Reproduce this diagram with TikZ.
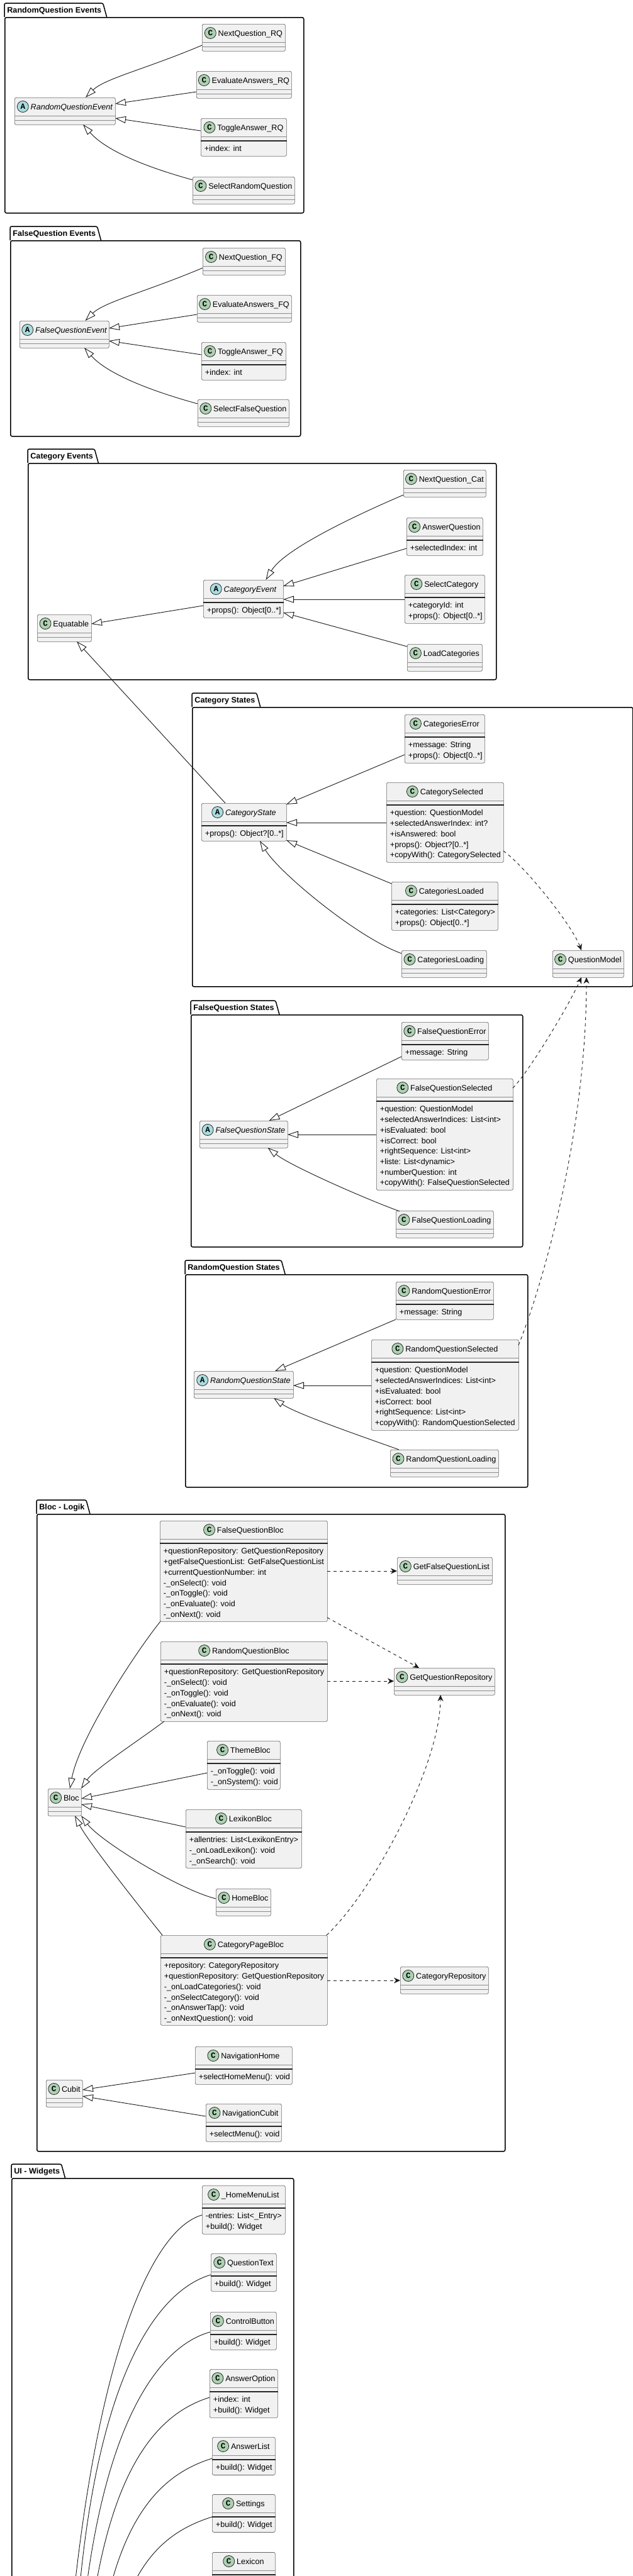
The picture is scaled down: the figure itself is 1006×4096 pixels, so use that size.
\documentclass[tikz,border=0pt]{standalone}
\usepackage{fontspec}
\setmainfont{Liberation Sans}
\newfontfamily\circfont{Liberation Mono}
\usetikzlibrary{arrows.meta,calc}
\definecolor{classfill}{HTML}{F1F1F1}
\definecolor{spotC}{HTML}{ADD1B2}
\definecolor{spotA}{HTML}{A9DCDF}
\tikzset{
  umlfont/.style={font=\fontsize{6.3pt}{8.35pt}\selectfont},
  classbox/.style={draw=black!60, fill=classfill, line width=0.35pt, rounded corners=1.25pt, inner sep=0pt, anchor=north west},
  titleC/.style={font=\fontsize{6.3pt}{8.35pt}\selectfont, inner sep=0pt},
  titleA/.style={font=\fontsize{6.3pt}{8.35pt}\selectfont\itshape, inner sep=0pt},
  circC/.style={circle, draw=black!85, fill=spotC, line width=0.4pt, minimum size=9pt, inner sep=0pt, font=\fontsize{6.3pt}{6.3pt}\selectfont\circfont\bfseries},
  circA/.style={circle, draw=black!85, fill=spotA, line width=0.4pt, minimum size=9pt, inner sep=0pt, font=\fontsize{6.3pt}{6.3pt}\selectfont\circfont\bfseries},
  sepline/.style={draw=black!45, line width=0.35pt},
  darkline/.style={draw=black!85, line width=0.6pt},
  member/.style={umlfont, inner sep=0pt},
  pkgbox/.style={draw=black, line width=0.75pt, rounded corners=1.25pt, inner sep=0pt, anchor=north west},
  pkgline/.style={draw=black, line width=0.75pt},
  pkgtitle/.style={font=\fontsize{6.3pt}{8.35pt}\selectfont\bfseries, inner sep=0pt},
  inh/.style={draw=black!90, line width=0.45pt, -{Triangle[open, length=8.5pt, width=5.5pt]}},
  dep/.style={draw=black!90, line width=0.45pt, dash pattern=on 2.5pt off 2.5pt, -{Stealth[length=5pt, width=4.5pt]}},
  wline/.style={draw=black!90, line width=0.45pt},
}
\newcommand{\umlpackage}[6]{%
  \node[pkgbox, minimum width={(#4-#2)*0.5pt}, minimum height={(#5-#3-22)*0.5pt}] (#1) at (#2,#3+22) {};
  \node[pkgtitle, anchor=base west] (#1-t) at ($(#1.north west)+(4,-6.5)$) {#6};
  \draw[pkgline, rounded corners=1.25pt] (#1.north west) -- ($(#1.north west)+(0,-22)$) -- ($(#1-t.east |- #1.north)+(2,-22)$) -- ($(#1-t.east |- #1.north)+(8,0)$);
}
\newcommand{\umlclass}[7]{%
  \node[classbox, minimum width={#5*0.5pt}, minimum height={#6*0.5pt}] (#1) at (#3,#4) {};
  \node[title#2, anchor=base] (#1-t) at ($(#1.north)+(10.5,19)$) {#7};
  \node[circ#2] at ($(#1-t.base west)+(-12,-4.5)$) {#2};
  \draw[sepline] ($(#1.north west)+(0,29)$) -- ($(#1.north east)+(0,29)$);
  \draw[sepline] ($(#1.north west)+(0,36)$) -- ($(#1.north east)+(0,36)$);
}
\newcommand{\umlclassm}[8]{%
  \node[classbox, minimum width={#5*0.5pt}, minimum height={#6*0.5pt}] (#1) at (#3,#4) {};
  \node[title#2, anchor=base] (#1-t) at ($(#1.north)+(10.5,19)$) {#7};
  \node[circ#2] at ($(#1-t.base west)+(-12,-4.5)$) {#2};
  \draw[sepline] ($(#1.north west)+(0,29)$) -- ($(#1.north east)+(0,29)$);
  \draw[darkline] ($(#1.north west)+(0,36)$) -- ($(#1.north east)+(0,36)$);
  \foreach \m [count=\i] in {#8} {\node[member, anchor=base west] at ($(#1.north west)+(5.5,{36.2+16.7*\i})$) {\m};}
}
\begin{document}
\begin{tikzpicture}[x=0.5pt,y=-0.5pt]
  \useasboundingbox (0,0) rectangle (1006,4096);
  \fill[white] (0,0) rectangle (1006,4096);
  \clip (0,0) rectangle (1006,4096);

  \umlpackage{prq}{7}{5}{482}{338}{RandomQuestion Events}
  \umlpackage{pfq}{16}{360}{477}{693}{FalseQuestion Events}
  \umlpackage{pce}{44}{714}{788}{1080}{Category Events}
  \umlpackage{pcs}{305}{1102}{1005}{1568}{Category States}
  \umlpackage{pfs}{303}{1591}{830}{1982}{FalseQuestion States}
  \umlpackage{prs}{294}{2004}{838}{2364}{RandomQuestion States}
  \umlpackage{pbl}{58}{2385}{802}{3420}{Bloc - Logik}
  \umlpackage{pui}{18}{3441}{466}{4400}{UI - Widgets}

  \umlclass{rqe}{A}{23}{155}{160}{43}{RandomQuestionEvent}
  \umlclass{nqrq}{C}{321}{38}{132}{43}{NextQuestion\_RQ}
  \umlclass{evrq}{C}{312}{113}{151}{43}{EvaluateAnswers\_RQ}
  \umlclassm{tgrq}{C}{319}{188}{136}{60}{ToggleAnswer\_RQ}{{+index: int}}
  \umlclass{selrq}{C}{306}{281}{162}{43}{SelectRandomQuestion}

  \umlclass{fqe}{A}{31}{510}{142}{43}{FalseQuestionEvent}
  \umlclass{nqfq}{C}{322}{394}{131}{43}{NextQuestion\_FQ}
  \umlclass{evfq}{C}{313}{469}{150}{43}{EvaluateAnswers\_FQ}
  \umlclassm{tgfq}{C}{320}{544}{134}{60}{ToggleAnswer\_FQ}{{+index: int}}
  \umlclass{selfq}{C}{314}{635}{145}{43}{SelectFalseQuestion}

  \umlclassm{cate}{A}{323}{922}{127}{60}{CategoryEvent}{{+props(): Object[0..*]}}
  \umlclass{nqcat}{C}{641}{747}{131}{43}{NextQuestion\_Cat}
  \umlclassm{ansq}{C}{646}{823}{121}{60}{AnswerQuestion}{{+selectedIndex: int}}
  \umlclassm{selcat}{C}{643}{914}{127}{77}{SelectCategory}{{+categoryId: int},{+props(): Object[0..*]}}
  \umlclass{loadcat}{C}{647}{1024}{119}{43}{LoadCategories}
  \umlclass{equat}{C}{59}{977}{86}{43}{Equatable}

  \umlclassm{cats}{A}{320}{1277}{135}{60}{CategoryState}{{+props(): Object?[0..*]}}
  \umlclassm{caterr}{C}{643}{1136}{127}{77}{CategoriesError}{{+message: String},{+props(): Object[0..*]}}
  \umlclassm{catsel}{C}{614}{1244}{186}{127}{CategorySelected}{{+question: QuestionModel},{+selectedAnswerIndex: int?},{+isAnswered: bool},{+props(): Object?[0..*]},{+copyWith(): CategorySelected}}
  \umlclassm{catload}{C}{622}{1402}{169}{77}{CategoriesLoaded}{{+categories: List<Category>},{+props(): Object[0..*]}}
  \umlclass{catwait}{C}{638}{1511}{135}{43}{CategoriesLoading}
  \umlclass{qmodel}{C}{878}{1511}{113}{43}{QuestionModel}

  \umlclass{fqs}{A}{317}{1782}{140}{43}{FalseQuestionState}
  \umlclassm{fqerr}{C}{638}{1625}{138}{60}{FalseQuestionError}{{+message: String}}
  \umlclassm{fqsel}{C}{598}{1715}{217}{177}{FalseQuestionSelected}{{+question: QuestionModel},{+selectedAnswerIndices: List<int>},{+isEvaluated: bool},{+isCorrect: bool},{+rightSequence: List<int>},{+liste: List<dynamic>},{+numberQuestion: int},{+copyWith(): FalseQuestionSelected}}
  \umlclass{fqwait}{C}{629}{1925}{155}{43}{FalseQuestionLoading}

  \umlclass{rqs}{A}{308}{2180}{158}{43}{RandomQuestionState}
  \umlclassm{rqerr}{C}{629}{2038}{155}{60}{RandomQuestionError}{{+message: String}}
  \umlclassm{rqsel}{C}{590}{2130}{234}{144}{RandomQuestionSelected}{{+question: QuestionModel},{+selectedAnswerIndices: List<int>},{+isEvaluated: bool},{+isCorrect: bool},{+rightSequence: List<int>},{+copyWith(): RandomQuestionSelected}}
  \umlclass{rqwait}{C}{620}{2305}{172}{43}{RandomQuestionLoading}

  \umlclassm{fqbloc}{C}{254}{2418}{266}{160}{FalseQuestionBloc}{{+questionRepository: GetQuestionRepository},{+getFalseQuestionList: GetFalseQuestionList},{+currentQuestionNumber: int},{-\_onSelect(): void},{-\_onToggle(): void},{-\_onEvaluate(): void},{-\_onNext(): void}}
  \umlclass{gfql}{C}{631}{2476}{151}{43}{GetFalseQuestionList}
  \umlclass{gqrepo}{C}{626}{2652}{160}{43}{GetQuestionRepository}
  \umlclassm{rqbloc}{C}{255}{2610}{265}{127}{RandomQuestionBloc}{{+questionRepository: GetQuestionRepository},{-\_onSelect(): void},{-\_onToggle(): void},{-\_onEvaluate(): void},{-\_onNext(): void}}
  \umlclassm{themebloc}{C}{329}{2768}{116}{77}{ThemeBloc}{{-\_onToggle(): void},{-\_onSystem(): void}}
  \umlclass{bloc}{C}{76}{2844}{53}{43}{Bloc}
  \umlclassm{lexbloc}{C}{295}{2877}{184}{93}{LexikonBloc}{{+allentries: List<LexikonEntry>},{-\_onLoadLexikon(): void},{-\_onSearch(): void}}
  \umlclass{homebloc}{C}{343}{3003}{87}{43}{HomeBloc}
  \umlclassm{cpbloc}{C}{255}{3077}{265}{143}{CategoryPageBloc}{{+repository: CategoryRepository},{+questionRepository: GetQuestionRepository},{-\_onLoadCategories(): void},{-\_onSelectCategory(): void},{-\_onAnswerTap(): void},{-\_onNextQuestion(): void}}
  \umlclass{catrepo}{C}{636}{3127}{140}{43}{CategoryRepository}
  \umlclassm{navhome}{C}{310}{3254}{154}{60}{NavigationHome}{{+selectHomeMenu(): void}}
  \umlclassm{navcubit}{C}{327}{3345}{120}{60}{NavigationCubit}{{+selectMenu(): void}}
  \umlclass{cubit}{C}{73}{3307}{58}{43}{Cubit}

  \umlclassm{hml}{C}{321}{3475}{132}{77}{\_HomeMenuList}{{-entries: List<\_Entry>},{+build(): Widget}}
  \umlclassm{qtext}{C}{335}{3583}{104}{60}{QuestionText}{{+build(): Widget}}
  \umlclassm{ctrlbtn}{C}{334}{3676}{105}{60}{ControlButton}{{+build(): Widget}}
  \umlclassm{ansopt}{C}{333}{3767}{108}{77}{AnswerOption}{{+index: int},{+build(): Widget}}
  \umlclassm{anslist}{C}{337}{3875}{100}{60}{AnswerList}{{+build(): Widget}}
  \umlclassm{settings}{C}{337}{3966}{100}{60}{Settings}{{+build(): Widget}}
  \umlclassm{lexicon}{C}{337}{4058}{100}{60}{Lexicon}{{}}

  \draw[inh] ($(nqrq.north west)+(0,34)$) .. controls +(-90,38) and +(30,-30) .. ($(rqe.north west)+(113,0)$);
  \draw[inh] ($(evrq.north west)+(0,33)$) -- ($(rqe.north west)+(160,10)$);
  \draw[inh] ($(tgrq.north west)+(0,20)$) -- ($(rqe.north west)+(160,33)$);
  \draw[inh] ($(selrq.north west)+(0,5)$) .. controls +(-80,-22) and +(35,40) .. ($(rqe.north west)+(109,43)$);

  \draw[inh] ($(nqfq.north west)+(0,32)$) .. controls +(-90,38) and +(30,-30) .. ($(fqe.north west)+(104.5,0)$);
  \draw[inh] ($(evfq.north west)+(0,31)$) -- ($(fqe.north west)+(142,12)$);
  \draw[inh] ($(tgfq.north west)+(0,20)$) -- ($(fqe.north west)+(142,32)$);
  \draw[inh] ($(selfq.north west)+(0,7)$) .. controls +(-80,-22) and +(35,40) .. ($(fqe.north west)+(103,43)$);

  \draw[inh] ($(nqcat.north west)+(0,40)$) .. controls +(-70,30) and +(30,-50) .. ($(cate.north west)+(99.5,0)$);
  \draw[inh] ($(ansq.north west)+(0,49)$) -- ($(cate.north west)+(127,10)$);
  \draw[inh] ($(selcat.north west)+(0,39)$) -- ($(cate.north west)+(127,31)$);
  \draw[inh] ($(loadcat.north west)+(0,4)$) -- ($(cate.north west)+(127,52)$);
  \draw[inh] ($(cate.north west)+(0,41)$) -- ($(equat.north west)+(86,15)$);
  \draw[inh] ($(cats.north west)+(38,0)$) -- ($(equat.north west)+(63,43)$);

  \draw[inh] ($(caterr.north west)+(0,64)$) -- ($(cats.north west)+(135,2)$);
  \draw[inh] ($(catsel.north west)+(0,64)$) -- ($(cats.north west)+(135,31)$);
  \draw[inh] ($(catload.north west)+(0,3)$) -- ($(cats.north west)+(135,59)$);
  \draw[inh] ($(catwait.north west)+(0,5)$) .. controls +(-70,-25) and +(30,50) .. ($(cats.north west)+(93,60)$);
  \draw[dep] ($(catsel.north west)+(186,109)$) .. controls +(35,25) and +(-15,-40) .. ($(qmodel.north west)+(46,0)$);
  \draw[dep] ($(fqsel.north west)+(217,15)$) .. controls +(25,-25) and +(-20,45) .. ($(qmodel.north west)+(46,43)$);
  \draw[dep] ($(rqsel.north west)+(234,9)$) .. controls +(40,-100) and +(0,245) .. ($(qmodel.north west)+(54,43)$);

  \draw[inh] ($(fqerr.north west)+(0,55)$) -- ($(fqs.north west)+(110.5,0)$);
  \draw[inh] ($(fqsel.north west)+(0,89)$) -- ($(fqs.north west)+(140,22)$);
  \draw[inh] ($(fqwait.north west)+(6,1)$) .. controls +(-60,-22) and +(35,28) .. ($(fqs.north west)+(108.5,43)$);

  \draw[inh] ($(rqerr.north west)+(0,60)$) -- ($(rqs.north west)+(129,0)$);
  \draw[inh] ($(rqsel.north west)+(0,73)$) -- ($(rqs.north west)+(158,23)$);
  \draw[inh] ($(rqwait.north west)+(14,0)$) .. controls +(-50,-18) and +(35,25) .. ($(rqs.north west)+(127,43)$);

  \draw[dep] ($(fqbloc.north west)+(266,80)$) -- ($(gfql.north west)+(0,22)$);
  \draw[dep] ($(fqbloc.north west)+(266,154)$) -- ($(gqrepo.north west)+(40,0)$);
  \draw[dep] ($(rqbloc.north west)+(265,63)$) -- ($(gqrepo.north west)+(0,21)$);
  \draw[dep] ($(cpbloc.north west)+(264,0)$) .. controls +(75,-70) and +(0,110) .. ($(gqrepo.north west)+(74,43)$);
  \draw[dep] ($(cpbloc.north west)+(265,72)$) -- ($(catrepo.north west)+(0,22)$);
  \draw[inh] ($(fqbloc.north west)+(1,160)$) .. controls +(-40,50) and +(15,-80) .. ($(bloc.north west)+(35,0)$);
  \draw[inh] ($(rqbloc.north west)+(6,127)$) .. controls +(-40,30) and +(20,-30) .. ($(bloc.north west)+(53,0)$);
  \draw[inh] ($(themebloc.north west)+(0,51)$) -- ($(bloc.north west)+(53,16)$);
  \draw[inh] ($(lexbloc.north west)+(0,28)$) -- ($(bloc.north west)+(53,25)$);
  \draw[inh] ($(homebloc.north west)+(0,16)$) .. controls +(-60,-15) and +(30,40) .. ($(bloc.north west)+(53,43)$);
  \draw[inh] ($(cpbloc.north west)+(3,0)$) .. controls +(-40,-50) and +(20,40) .. ($(bloc.north west)+(43,43)$);
  \draw[inh] ($(navhome.north west)+(0,42)$) -- ($(cubit.north west)+(58,16)$);
  \draw[inh] ($(navcubit.north west)+(0,20)$) -- ($(cubit.north west)+(58,26)$);

  \coordinate (sw1) at (110,4200);
  \coordinate (sw2) at (120,4200);
  \coordinate (sw3) at (128,4200);
  \coordinate (sw4) at (140,4200);
  \coordinate (sw5) at (158,4200);
  \coordinate (sw6) at (180,4200);
  \draw[wline] ($(hml.north west)+(0,47)$) .. controls +(-81,23) and +(40,-450) .. (sw1);
  \draw[wline] ($(qtext.north west)+(0,34)$) .. controls +(-85,25) and +(25,-420) .. (sw2);
  \draw[wline] ($(ctrlbtn.north west)+(0,32)$) .. controls +(-80,22) and +(30,-350) .. (sw3);
  \draw[wline] ($(ansopt.north west)+(0,45)$) .. controls +(-80,25) and +(30,-280) .. (sw4);
  \draw[wline] ($(anslist.north west)+(0,34)$) .. controls +(-80,25) and +(30,-200) .. (sw5);
  \draw[wline] ($(settings.north west)+(0,36)$) .. controls +(-80,25) and +(30,-120) .. (sw6);
\end{tikzpicture}
\end{document}
